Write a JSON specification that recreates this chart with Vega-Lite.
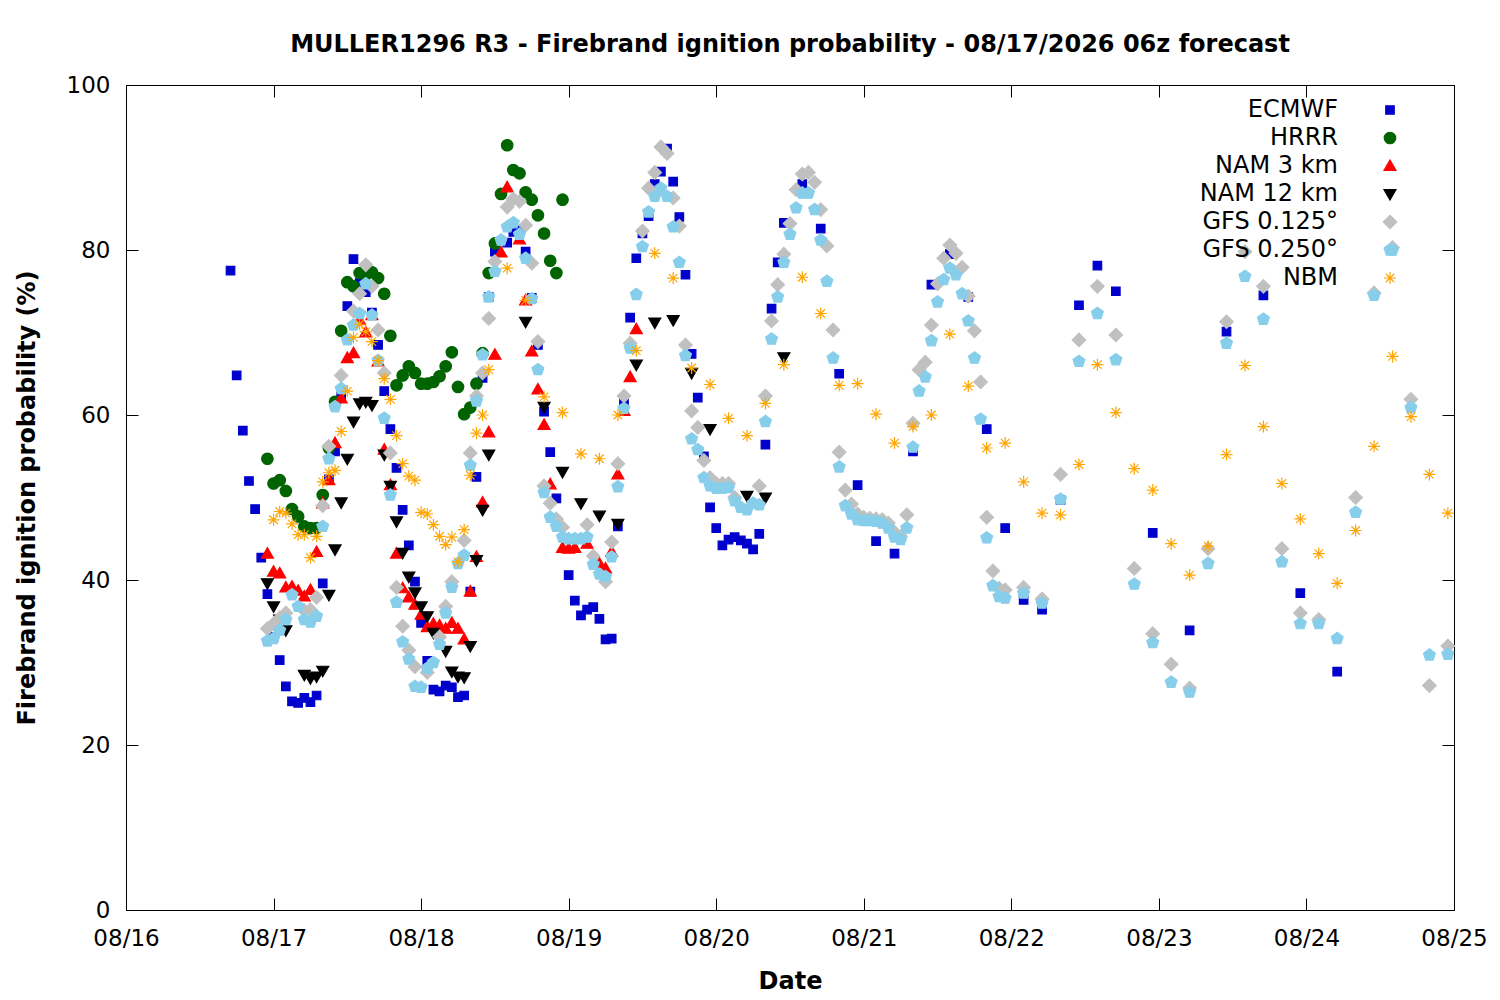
{
  "$schema": "https://vega.github.io/schema/vega-lite/v6.json",
  "width": 1328,
  "height": 825,
  "autosize": "none",
  "padding": {"left": 126, "top": 85, "right": 46, "bottom": 90},
  "background": "white",
  "title": {
    "text": "MULLER1296 R3 - Firebrand ignition probability - 08/17/2026 06z forecast",
    "font": "DejaVu Sans",
    "fontSize": 24,
    "fontWeight": "bold",
    "color": "black",
    "anchor": "middle",
    "frame": "group",
    "offset": 17
  },
  "config": {
    "font": "DejaVu Sans",
    "view": {"stroke": "black", "strokeWidth": 1},
    "axis": {
      "grid": false,
      "domain": false,
      "tickColor": "black",
      "tickSize": -12,
      "labelFont": "DejaVu Sans",
      "labelFontSize": 23,
      "labelColor": "black",
      "labelFlush": false,
      "labelOverlap": false,
      "titleFont": "DejaVu Sans",
      "titleFontSize": 24,
      "titleFontWeight": "bold",
      "titleColor": "black"
    }
  },
  "data": {
    "values": [
      {"model": "ECMWF", "hour": 17, "prob": 77.5}, {"model": "ECMWF", "hour": 18, "prob": 64.8}, {"model": "ECMWF", "hour": 19, "prob": 58.1}, {"model": "ECMWF", "hour": 20, "prob": 52.0}, {"model": "ECMWF", "hour": 21, "prob": 48.6}, {"model": "ECMWF", "hour": 22, "prob": 42.7}, {"model": "ECMWF", "hour": 23, "prob": 38.3}, {"model": "ECMWF", "hour": 24, "prob": 33.1}, {"model": "ECMWF", "hour": 25, "prob": 30.3}, {"model": "ECMWF", "hour": 26, "prob": 27.1}, {"model": "ECMWF", "hour": 27, "prob": 25.3}, {"model": "ECMWF", "hour": 28, "prob": 25.1}, {"model": "ECMWF", "hour": 29, "prob": 25.7}, {"model": "ECMWF", "hour": 30, "prob": 25.2}, {"model": "ECMWF", "hour": 31, "prob": 26.0}, {"model": "ECMWF", "hour": 32, "prob": 39.6}, {"model": "ECMWF", "hour": 33, "prob": 52.2}, {"model": "ECMWF", "hour": 34, "prob": 55.6}, {"model": "ECMWF", "hour": 35, "prob": 62.2}, {"model": "ECMWF", "hour": 36, "prob": 73.2}, {"model": "ECMWF", "hour": 37, "prob": 78.9}, {"model": "ECMWF", "hour": 38, "prob": 76.0}, {"model": "ECMWF", "hour": 39, "prob": 74.9}, {"model": "ECMWF", "hour": 40, "prob": 72.4}, {"model": "ECMWF", "hour": 41, "prob": 68.5}, {"model": "ECMWF", "hour": 42, "prob": 62.9}, {"model": "ECMWF", "hour": 43, "prob": 58.3}, {"model": "ECMWF", "hour": 44, "prob": 53.6}, {"model": "ECMWF", "hour": 45, "prob": 48.5}, {"model": "ECMWF", "hour": 46, "prob": 44.2}, {"model": "ECMWF", "hour": 47, "prob": 39.8}, {"model": "ECMWF", "hour": 48, "prob": 34.8}, {"model": "ECMWF", "hour": 49, "prob": 30.2}, {"model": "ECMWF", "hour": 50, "prob": 26.7}, {"model": "ECMWF", "hour": 51, "prob": 26.5}, {"model": "ECMWF", "hour": 52, "prob": 27.2}, {"model": "ECMWF", "hour": 53, "prob": 27.0}, {"model": "ECMWF", "hour": 54, "prob": 25.8}, {"model": "ECMWF", "hour": 55, "prob": 26.0}, {"model": "ECMWF", "hour": 56, "prob": 38.6}, {"model": "ECMWF", "hour": 57, "prob": 52.5}, {"model": "ECMWF", "hour": 58, "prob": 64.5}, {"model": "ECMWF", "hour": 59, "prob": 74.3}, {"model": "ECMWF", "hour": 60, "prob": 79.8}, {"model": "ECMWF", "hour": 62, "prob": 80.9}, {"model": "ECMWF", "hour": 63, "prob": 82.2}, {"model": "ECMWF", "hour": 64, "prob": 82.4}, {"model": "ECMWF", "hour": 65, "prob": 79.8}, {"model": "ECMWF", "hour": 66, "prob": 74.2}, {"model": "ECMWF", "hour": 67, "prob": 68.5}, {"model": "ECMWF", "hour": 68, "prob": 60.4}, {"model": "ECMWF", "hour": 69, "prob": 55.5}, {"model": "ECMWF", "hour": 70, "prob": 49.9}, {"model": "ECMWF", "hour": 72, "prob": 40.6}, {"model": "ECMWF", "hour": 73, "prob": 37.5}, {"model": "ECMWF", "hour": 74, "prob": 35.7}, {"model": "ECMWF", "hour": 75, "prob": 36.4}, {"model": "ECMWF", "hour": 76, "prob": 36.7}, {"model": "ECMWF", "hour": 77, "prob": 35.3}, {"model": "ECMWF", "hour": 78, "prob": 32.8}, {"model": "ECMWF", "hour": 79, "prob": 32.9}, {"model": "ECMWF", "hour": 80, "prob": 46.5}, {"model": "ECMWF", "hour": 81, "prob": 61.6}, {"model": "ECMWF", "hour": 82, "prob": 71.8}, {"model": "ECMWF", "hour": 83, "prob": 79.0}, {"model": "ECMWF", "hour": 84, "prob": 82.0}, {"model": "ECMWF", "hour": 85, "prob": 84.1}, {"model": "ECMWF", "hour": 86, "prob": 88.0}, {"model": "ECMWF", "hour": 87, "prob": 89.5}, {"model": "ECMWF", "hour": 88, "prob": 92.3}, {"model": "ECMWF", "hour": 89, "prob": 88.3}, {"model": "ECMWF", "hour": 90, "prob": 84.0}, {"model": "ECMWF", "hour": 91, "prob": 77.0}, {"model": "ECMWF", "hour": 92, "prob": 67.4}, {"model": "ECMWF", "hour": 93, "prob": 62.1}, {"model": "ECMWF", "hour": 94, "prob": 55.0}, {"model": "ECMWF", "hour": 95, "prob": 48.8}, {"model": "ECMWF", "hour": 96, "prob": 46.3}, {"model": "ECMWF", "hour": 97, "prob": 44.2}, {"model": "ECMWF", "hour": 98, "prob": 44.9}, {"model": "ECMWF", "hour": 99, "prob": 45.2}, {"model": "ECMWF", "hour": 100, "prob": 44.8}, {"model": "ECMWF", "hour": 101, "prob": 44.4}, {"model": "ECMWF", "hour": 102, "prob": 43.7}, {"model": "ECMWF", "hour": 103, "prob": 45.6}, {"model": "ECMWF", "hour": 104, "prob": 56.4}, {"model": "ECMWF", "hour": 105, "prob": 72.9}, {"model": "ECMWF", "hour": 106, "prob": 78.5}, {"model": "ECMWF", "hour": 107, "prob": 83.3}, {"model": "ECMWF", "hour": 110, "prob": 88.0}, {"model": "ECMWF", "hour": 113, "prob": 82.6}, {"model": "ECMWF", "hour": 116, "prob": 65.0}, {"model": "ECMWF", "hour": 119, "prob": 51.5}, {"model": "ECMWF", "hour": 122, "prob": 44.7}, {"model": "ECMWF", "hour": 125, "prob": 43.2}, {"model": "ECMWF", "hour": 128, "prob": 55.6}, {"model": "ECMWF", "hour": 131, "prob": 75.8}, {"model": "ECMWF", "hour": 134, "prob": 79.5}, {"model": "ECMWF", "hour": 137, "prob": 74.3}, {"model": "ECMWF", "hour": 140, "prob": 58.3}, {"model": "ECMWF", "hour": 143, "prob": 46.3}, {"model": "ECMWF", "hour": 146, "prob": 37.6}, {"model": "ECMWF", "hour": 149, "prob": 36.4}, {"model": "ECMWF", "hour": 152, "prob": 49.7}, {"model": "ECMWF", "hour": 155, "prob": 73.3}, {"model": "ECMWF", "hour": 158, "prob": 78.1}, {"model": "ECMWF", "hour": 161, "prob": 75.0}, {"model": "ECMWF", "hour": 167, "prob": 45.7}, {"model": "ECMWF", "hour": 173, "prob": 33.9}, {"model": "ECMWF", "hour": 179, "prob": 70.1}, {"model": "ECMWF", "hour": 185, "prob": 74.5}, {"model": "ECMWF", "hour": 191, "prob": 38.4}, {"model": "ECMWF", "hour": 197, "prob": 28.9},

      {"model": "HRRR", "hour": 23, "prob": 54.7}, {"model": "HRRR", "hour": 24, "prob": 51.7}, {"model": "HRRR", "hour": 25, "prob": 52.1}, {"model": "HRRR", "hour": 26, "prob": 50.8}, {"model": "HRRR", "hour": 27, "prob": 48.6}, {"model": "HRRR", "hour": 28, "prob": 47.7}, {"model": "HRRR", "hour": 29, "prob": 46.5}, {"model": "HRRR", "hour": 30, "prob": 46.3}, {"model": "HRRR", "hour": 31, "prob": 46.3}, {"model": "HRRR", "hour": 32, "prob": 50.3}, {"model": "HRRR", "hour": 33, "prob": 56.0}, {"model": "HRRR", "hour": 34, "prob": 61.6}, {"model": "HRRR", "hour": 35, "prob": 70.2}, {"model": "HRRR", "hour": 36, "prob": 76.1}, {"model": "HRRR", "hour": 37, "prob": 75.6}, {"model": "HRRR", "hour": 38, "prob": 77.2}, {"model": "HRRR", "hour": 39, "prob": 77.0}, {"model": "HRRR", "hour": 40, "prob": 77.3}, {"model": "HRRR", "hour": 41, "prob": 76.6}, {"model": "HRRR", "hour": 42, "prob": 74.7}, {"model": "HRRR", "hour": 43, "prob": 69.6}, {"model": "HRRR", "hour": 44, "prob": 63.6}, {"model": "HRRR", "hour": 45, "prob": 64.8}, {"model": "HRRR", "hour": 46, "prob": 65.9}, {"model": "HRRR", "hour": 47, "prob": 65.1}, {"model": "HRRR", "hour": 48, "prob": 63.8}, {"model": "HRRR", "hour": 49, "prob": 63.8}, {"model": "HRRR", "hour": 50, "prob": 64.0}, {"model": "HRRR", "hour": 51, "prob": 64.7}, {"model": "HRRR", "hour": 52, "prob": 65.9}, {"model": "HRRR", "hour": 53, "prob": 67.6}, {"model": "HRRR", "hour": 54, "prob": 63.4}, {"model": "HRRR", "hour": 55, "prob": 60.1}, {"model": "HRRR", "hour": 56, "prob": 60.9}, {"model": "HRRR", "hour": 57, "prob": 63.8}, {"model": "HRRR", "hour": 58, "prob": 67.5}, {"model": "HRRR", "hour": 59, "prob": 77.2}, {"model": "HRRR", "hour": 60, "prob": 80.8}, {"model": "HRRR", "hour": 61, "prob": 86.8}, {"model": "HRRR", "hour": 62, "prob": 92.7}, {"model": "HRRR", "hour": 63, "prob": 89.7}, {"model": "HRRR", "hour": 64, "prob": 89.3}, {"model": "HRRR", "hour": 65, "prob": 87.0}, {"model": "HRRR", "hour": 66, "prob": 86.1}, {"model": "HRRR", "hour": 67, "prob": 84.2}, {"model": "HRRR", "hour": 68, "prob": 82.0}, {"model": "HRRR", "hour": 69, "prob": 78.7}, {"model": "HRRR", "hour": 70, "prob": 77.2}, {"model": "HRRR", "hour": 71, "prob": 86.1},

      {"model": "NAM 3 km", "hour": 23, "prob": 43.2}, {"model": "NAM 3 km", "hour": 24, "prob": 41.0}, {"model": "NAM 3 km", "hour": 25, "prob": 40.8}, {"model": "NAM 3 km", "hour": 26, "prob": 39.1}, {"model": "NAM 3 km", "hour": 27, "prob": 39.2}, {"model": "NAM 3 km", "hour": 28, "prob": 38.7}, {"model": "NAM 3 km", "hour": 29, "prob": 38.0}, {"model": "NAM 3 km", "hour": 30, "prob": 38.8}, {"model": "NAM 3 km", "hour": 31, "prob": 43.4}, {"model": "NAM 3 km", "hour": 32, "prob": 49.3}, {"model": "NAM 3 km", "hour": 33, "prob": 52.1}, {"model": "NAM 3 km", "hour": 34, "prob": 56.6}, {"model": "NAM 3 km", "hour": 35, "prob": 62.0}, {"model": "NAM 3 km", "hour": 36, "prob": 66.9}, {"model": "NAM 3 km", "hour": 37, "prob": 67.5}, {"model": "NAM 3 km", "hour": 38, "prob": 71.5}, {"model": "NAM 3 km", "hour": 39, "prob": 70.0}, {"model": "NAM 3 km", "hour": 40, "prob": 72.1}, {"model": "NAM 3 km", "hour": 41, "prob": 66.5}, {"model": "NAM 3 km", "hour": 42, "prob": 55.8}, {"model": "NAM 3 km", "hour": 43, "prob": 51.5}, {"model": "NAM 3 km", "hour": 44, "prob": 43.2}, {"model": "NAM 3 km", "hour": 45, "prob": 39.0}, {"model": "NAM 3 km", "hour": 46, "prob": 37.9}, {"model": "NAM 3 km", "hour": 47, "prob": 37.0}, {"model": "NAM 3 km", "hour": 48, "prob": 35.8}, {"model": "NAM 3 km", "hour": 49, "prob": 34.3}, {"model": "NAM 3 km", "hour": 50, "prob": 34.7}, {"model": "NAM 3 km", "hour": 51, "prob": 34.5}, {"model": "NAM 3 km", "hour": 52, "prob": 34.1}, {"model": "NAM 3 km", "hour": 53, "prob": 34.8}, {"model": "NAM 3 km", "hour": 54, "prob": 34.1}, {"model": "NAM 3 km", "hour": 55, "prob": 32.8}, {"model": "NAM 3 km", "hour": 56, "prob": 38.6}, {"model": "NAM 3 km", "hour": 57, "prob": 42.8}, {"model": "NAM 3 km", "hour": 58, "prob": 49.4}, {"model": "NAM 3 km", "hour": 59, "prob": 57.9}, {"model": "NAM 3 km", "hour": 60, "prob": 67.3}, {"model": "NAM 3 km", "hour": 61, "prob": 79.7}, {"model": "NAM 3 km", "hour": 62, "prob": 87.6}, {"model": "NAM 3 km", "hour": 64, "prob": 81.3}, {"model": "NAM 3 km", "hour": 65, "prob": 73.9}, {"model": "NAM 3 km", "hour": 66, "prob": 67.7}, {"model": "NAM 3 km", "hour": 67, "prob": 63.1}, {"model": "NAM 3 km", "hour": 68, "prob": 58.8}, {"model": "NAM 3 km", "hour": 69, "prob": 51.6}, {"model": "NAM 3 km", "hour": 71, "prob": 43.9}, {"model": "NAM 3 km", "hour": 72, "prob": 43.8}, {"model": "NAM 3 km", "hour": 73, "prob": 43.9}, {"model": "NAM 3 km", "hour": 75, "prob": 44.4}, {"model": "NAM 3 km", "hour": 77, "prob": 42.0}, {"model": "NAM 3 km", "hour": 78, "prob": 41.4}, {"model": "NAM 3 km", "hour": 79, "prob": 43.4}, {"model": "NAM 3 km", "hour": 80, "prob": 52.8}, {"model": "NAM 3 km", "hour": 81, "prob": 60.5}, {"model": "NAM 3 km", "hour": 82, "prob": 64.6}, {"model": "NAM 3 km", "hour": 83, "prob": 70.4},

      {"model": "NAM 12 km", "hour": 23, "prob": 39.6}, {"model": "NAM 12 km", "hour": 24, "prob": 36.8}, {"model": "NAM 12 km", "hour": 25, "prob": 35.2}, {"model": "NAM 12 km", "hour": 26, "prob": 33.9}, {"model": "NAM 12 km", "hour": 29, "prob": 28.5}, {"model": "NAM 12 km", "hour": 30, "prob": 28.1}, {"model": "NAM 12 km", "hour": 31, "prob": 28.3}, {"model": "NAM 12 km", "hour": 32, "prob": 29.0}, {"model": "NAM 12 km", "hour": 33, "prob": 38.2}, {"model": "NAM 12 km", "hour": 34, "prob": 43.7}, {"model": "NAM 12 km", "hour": 35, "prob": 49.4}, {"model": "NAM 12 km", "hour": 36, "prob": 54.7}, {"model": "NAM 12 km", "hour": 37, "prob": 59.2}, {"model": "NAM 12 km", "hour": 38, "prob": 61.4}, {"model": "NAM 12 km", "hour": 39, "prob": 61.6}, {"model": "NAM 12 km", "hour": 40, "prob": 61.2}, {"model": "NAM 12 km", "hour": 42, "prob": 55.2}, {"model": "NAM 12 km", "hour": 43, "prob": 51.4}, {"model": "NAM 12 km", "hour": 44, "prob": 47.1}, {"model": "NAM 12 km", "hour": 45, "prob": 43.3}, {"model": "NAM 12 km", "hour": 46, "prob": 40.4}, {"model": "NAM 12 km", "hour": 47, "prob": 38.5}, {"model": "NAM 12 km", "hour": 48, "prob": 36.8}, {"model": "NAM 12 km", "hour": 49, "prob": 35.6}, {"model": "NAM 12 km", "hour": 50, "prob": 33.6}, {"model": "NAM 12 km", "hour": 52, "prob": 31.4}, {"model": "NAM 12 km", "hour": 53, "prob": 28.9}, {"model": "NAM 12 km", "hour": 54, "prob": 28.3}, {"model": "NAM 12 km", "hour": 55, "prob": 28.2}, {"model": "NAM 12 km", "hour": 56, "prob": 32.0}, {"model": "NAM 12 km", "hour": 57, "prob": 42.4}, {"model": "NAM 12 km", "hour": 58, "prob": 48.5}, {"model": "NAM 12 km", "hour": 59, "prob": 55.2}, {"model": "NAM 12 km", "hour": 65, "prob": 71.3}, {"model": "NAM 12 km", "hour": 68, "prob": 61.0}, {"model": "NAM 12 km", "hour": 71, "prob": 53.1}, {"model": "NAM 12 km", "hour": 74, "prob": 49.3}, {"model": "NAM 12 km", "hour": 77, "prob": 47.8}, {"model": "NAM 12 km", "hour": 80, "prob": 46.8}, {"model": "NAM 12 km", "hour": 83, "prob": 66.1}, {"model": "NAM 12 km", "hour": 86, "prob": 71.2}, {"model": "NAM 12 km", "hour": 89, "prob": 71.5}, {"model": "NAM 12 km", "hour": 92, "prob": 65.1}, {"model": "NAM 12 km", "hour": 95, "prob": 58.3}, {"model": "NAM 12 km", "hour": 101, "prob": 50.2}, {"model": "NAM 12 km", "hour": 104, "prob": 50.0}, {"model": "NAM 12 km", "hour": 107, "prob": 67.0},

      {"model": "GFS 0.125°", "hour": 23, "prob": 34.1}, {"model": "GFS 0.125°", "hour": 24, "prob": 34.7}, {"model": "GFS 0.125°", "hour": 25, "prob": 35.4}, {"model": "GFS 0.125°", "hour": 26, "prob": 36.0}, {"model": "GFS 0.125°", "hour": 29, "prob": 36.3}, {"model": "GFS 0.125°", "hour": 30, "prob": 36.4}, {"model": "GFS 0.125°", "hour": 31, "prob": 37.9}, {"model": "GFS 0.125°", "hour": 32, "prob": 49.0}, {"model": "GFS 0.125°", "hour": 33, "prob": 56.2}, {"model": "GFS 0.125°", "hour": 35, "prob": 64.8}, {"model": "GFS 0.125°", "hour": 37, "prob": 72.6}, {"model": "GFS 0.125°", "hour": 38, "prob": 74.7}, {"model": "GFS 0.125°", "hour": 39, "prob": 78.2}, {"model": "GFS 0.125°", "hour": 40, "prob": 75.6}, {"model": "GFS 0.125°", "hour": 41, "prob": 70.3}, {"model": "GFS 0.125°", "hour": 42, "prob": 65.1}, {"model": "GFS 0.125°", "hour": 43, "prob": 55.4}, {"model": "GFS 0.125°", "hour": 44, "prob": 39.1}, {"model": "GFS 0.125°", "hour": 45, "prob": 34.4}, {"model": "GFS 0.125°", "hour": 46, "prob": 31.5}, {"model": "GFS 0.125°", "hour": 47, "prob": 29.5}, {"model": "GFS 0.125°", "hour": 49, "prob": 28.8}, {"model": "GFS 0.125°", "hour": 51, "prob": 33.1}, {"model": "GFS 0.125°", "hour": 52, "prob": 36.8}, {"model": "GFS 0.125°", "hour": 53, "prob": 39.8}, {"model": "GFS 0.125°", "hour": 55, "prob": 44.8}, {"model": "GFS 0.125°", "hour": 56, "prob": 55.4}, {"model": "GFS 0.125°", "hour": 57, "prob": 62.3}, {"model": "GFS 0.125°", "hour": 58, "prob": 65.1}, {"model": "GFS 0.125°", "hour": 59, "prob": 71.7}, {"model": "GFS 0.125°", "hour": 60, "prob": 78.6}, {"model": "GFS 0.125°", "hour": 62, "prob": 85.2}, {"model": "GFS 0.125°", "hour": 63, "prob": 86.2}, {"model": "GFS 0.125°", "hour": 64, "prob": 85.9}, {"model": "GFS 0.125°", "hour": 65, "prob": 83.0}, {"model": "GFS 0.125°", "hour": 66, "prob": 78.4}, {"model": "GFS 0.125°", "hour": 67, "prob": 68.9}, {"model": "GFS 0.125°", "hour": 68, "prob": 51.4}, {"model": "GFS 0.125°", "hour": 69, "prob": 49.3}, {"model": "GFS 0.125°", "hour": 70, "prob": 47.4}, {"model": "GFS 0.125°", "hour": 71, "prob": 46.4}, {"model": "GFS 0.125°", "hour": 75, "prob": 46.7}, {"model": "GFS 0.125°", "hour": 76, "prob": 42.9}, {"model": "GFS 0.125°", "hour": 78, "prob": 39.8}, {"model": "GFS 0.125°", "hour": 79, "prob": 44.6}, {"model": "GFS 0.125°", "hour": 80, "prob": 54.1}, {"model": "GFS 0.125°", "hour": 81, "prob": 62.3}, {"model": "GFS 0.125°", "hour": 82, "prob": 68.7}, {"model": "GFS 0.125°", "hour": 84, "prob": 82.3}, {"model": "GFS 0.125°", "hour": 85, "prob": 87.5}, {"model": "GFS 0.125°", "hour": 86, "prob": 89.4}, {"model": "GFS 0.125°", "hour": 87, "prob": 92.5}, {"model": "GFS 0.125°", "hour": 88, "prob": 91.7}, {"model": "GFS 0.125°", "hour": 89, "prob": 86.3}, {"model": "GFS 0.125°", "hour": 90, "prob": 82.9}, {"model": "GFS 0.125°", "hour": 91, "prob": 68.5}, {"model": "GFS 0.125°", "hour": 92, "prob": 60.5}, {"model": "GFS 0.125°", "hour": 93, "prob": 58.5}, {"model": "GFS 0.125°", "hour": 94, "prob": 54.5}, {"model": "GFS 0.125°", "hour": 95, "prob": 52.4}, {"model": "GFS 0.125°", "hour": 96, "prob": 51.7}, {"model": "GFS 0.125°", "hour": 97, "prob": 51.7}, {"model": "GFS 0.125°", "hour": 98, "prob": 51.7}, {"model": "GFS 0.125°", "hour": 99, "prob": 50.0}, {"model": "GFS 0.125°", "hour": 103, "prob": 51.4}, {"model": "GFS 0.125°", "hour": 104, "prob": 62.3}, {"model": "GFS 0.125°", "hour": 105, "prob": 71.4}, {"model": "GFS 0.125°", "hour": 106, "prob": 75.8}, {"model": "GFS 0.125°", "hour": 107, "prob": 79.5}, {"model": "GFS 0.125°", "hour": 108, "prob": 83.2}, {"model": "GFS 0.125°", "hour": 109, "prob": 87.3}, {"model": "GFS 0.125°", "hour": 110, "prob": 89.2}, {"model": "GFS 0.125°", "hour": 111, "prob": 89.4}, {"model": "GFS 0.125°", "hour": 112, "prob": 88.2}, {"model": "GFS 0.125°", "hour": 113, "prob": 84.9}, {"model": "GFS 0.125°", "hour": 114, "prob": 80.5}, {"model": "GFS 0.125°", "hour": 115, "prob": 70.3}, {"model": "GFS 0.125°", "hour": 116, "prob": 55.5}, {"model": "GFS 0.125°", "hour": 117, "prob": 50.9}, {"model": "GFS 0.125°", "hour": 118, "prob": 49.2}, {"model": "GFS 0.125°", "hour": 119, "prob": 48.0}, {"model": "GFS 0.125°", "hour": 120, "prob": 47.6}, {"model": "GFS 0.125°", "hour": 121, "prob": 47.5}, {"model": "GFS 0.125°", "hour": 122, "prob": 47.4}, {"model": "GFS 0.125°", "hour": 123, "prob": 47.3}, {"model": "GFS 0.125°", "hour": 124, "prob": 46.9}, {"model": "GFS 0.125°", "hour": 125, "prob": 45.8}, {"model": "GFS 0.125°", "hour": 126, "prob": 45.3}, {"model": "GFS 0.125°", "hour": 127, "prob": 47.9}, {"model": "GFS 0.125°", "hour": 128, "prob": 59.0}, {"model": "GFS 0.125°", "hour": 129, "prob": 65.5}, {"model": "GFS 0.125°", "hour": 130, "prob": 66.4}, {"model": "GFS 0.125°", "hour": 131, "prob": 70.9}, {"model": "GFS 0.125°", "hour": 132, "prob": 75.9}, {"model": "GFS 0.125°", "hour": 133, "prob": 79.0}, {"model": "GFS 0.125°", "hour": 134, "prob": 80.6}, {"model": "GFS 0.125°", "hour": 135, "prob": 79.6}, {"model": "GFS 0.125°", "hour": 136, "prob": 77.9}, {"model": "GFS 0.125°", "hour": 137, "prob": 74.4}, {"model": "GFS 0.125°", "hour": 138, "prob": 70.2}, {"model": "GFS 0.125°", "hour": 139, "prob": 64.0}, {"model": "GFS 0.125°", "hour": 140, "prob": 47.6}, {"model": "GFS 0.125°", "hour": 141, "prob": 41.1}, {"model": "GFS 0.125°", "hour": 142, "prob": 39.0}, {"model": "GFS 0.125°", "hour": 143, "prob": 38.8}, {"model": "GFS 0.125°", "hour": 146, "prob": 39.1}, {"model": "GFS 0.125°", "hour": 149, "prob": 37.7}, {"model": "GFS 0.125°", "hour": 152, "prob": 52.8}, {"model": "GFS 0.125°", "hour": 155, "prob": 69.1}, {"model": "GFS 0.125°", "hour": 158, "prob": 75.6}, {"model": "GFS 0.125°", "hour": 161, "prob": 69.7}, {"model": "GFS 0.125°", "hour": 164, "prob": 41.4}, {"model": "GFS 0.125°", "hour": 167, "prob": 33.5}, {"model": "GFS 0.125°", "hour": 170, "prob": 29.8}, {"model": "GFS 0.125°", "hour": 173, "prob": 26.9}, {"model": "GFS 0.125°", "hour": 176, "prob": 43.8}, {"model": "GFS 0.125°", "hour": 179, "prob": 71.3}, {"model": "GFS 0.125°", "hour": 182, "prob": 79.8}, {"model": "GFS 0.125°", "hour": 185, "prob": 75.6}, {"model": "GFS 0.125°", "hour": 188, "prob": 43.8}, {"model": "GFS 0.125°", "hour": 191, "prob": 36.0}, {"model": "GFS 0.125°", "hour": 194, "prob": 35.2}, {"model": "GFS 0.125°", "hour": 200, "prob": 50.0}, {"model": "GFS 0.125°", "hour": 203, "prob": 74.8}, {"model": "GFS 0.125°", "hour": 206, "prob": 80.3}, {"model": "GFS 0.125°", "hour": 209, "prob": 61.9}, {"model": "GFS 0.125°", "hour": 212, "prob": 27.2}, {"model": "GFS 0.125°", "hour": 215, "prob": 32.0},

      {"model": "GFS 0.250°", "hour": 23, "prob": 32.6}, {"model": "GFS 0.250°", "hour": 24, "prob": 32.9}, {"model": "GFS 0.250°", "hour": 25, "prob": 33.9}, {"model": "GFS 0.250°", "hour": 26, "prob": 35.2}, {"model": "GFS 0.250°", "hour": 27, "prob": 38.2}, {"model": "GFS 0.250°", "hour": 28, "prob": 36.8}, {"model": "GFS 0.250°", "hour": 29, "prob": 35.2}, {"model": "GFS 0.250°", "hour": 30, "prob": 34.9}, {"model": "GFS 0.250°", "hour": 31, "prob": 35.6}, {"model": "GFS 0.250°", "hour": 32, "prob": 46.5}, {"model": "GFS 0.250°", "hour": 33, "prob": 54.7}, {"model": "GFS 0.250°", "hour": 34, "prob": 61.0}, {"model": "GFS 0.250°", "hour": 35, "prob": 63.2}, {"model": "GFS 0.250°", "hour": 36, "prob": 69.1}, {"model": "GFS 0.250°", "hour": 37, "prob": 70.9}, {"model": "GFS 0.250°", "hour": 38, "prob": 72.3}, {"model": "GFS 0.250°", "hour": 39, "prob": 75.9}, {"model": "GFS 0.250°", "hour": 40, "prob": 72.1}, {"model": "GFS 0.250°", "hour": 41, "prob": 66.6}, {"model": "GFS 0.250°", "hour": 42, "prob": 59.6}, {"model": "GFS 0.250°", "hour": 43, "prob": 50.3}, {"model": "GFS 0.250°", "hour": 44, "prob": 37.3}, {"model": "GFS 0.250°", "hour": 45, "prob": 32.5}, {"model": "GFS 0.250°", "hour": 46, "prob": 30.4}, {"model": "GFS 0.250°", "hour": 47, "prob": 27.1}, {"model": "GFS 0.250°", "hour": 48, "prob": 27.0}, {"model": "GFS 0.250°", "hour": 49, "prob": 29.3}, {"model": "GFS 0.250°", "hour": 50, "prob": 30.0}, {"model": "GFS 0.250°", "hour": 51, "prob": 32.2}, {"model": "GFS 0.250°", "hour": 52, "prob": 36.0}, {"model": "GFS 0.250°", "hour": 53, "prob": 39.1}, {"model": "GFS 0.250°", "hour": 54, "prob": 42.0}, {"model": "GFS 0.250°", "hour": 55, "prob": 43.0}, {"model": "GFS 0.250°", "hour": 56, "prob": 53.9}, {"model": "GFS 0.250°", "hour": 57, "prob": 61.7}, {"model": "GFS 0.250°", "hour": 58, "prob": 67.3}, {"model": "GFS 0.250°", "hour": 59, "prob": 74.3}, {"model": "GFS 0.250°", "hour": 60, "prob": 77.4}, {"model": "GFS 0.250°", "hour": 61, "prob": 81.2}, {"model": "GFS 0.250°", "hour": 62, "prob": 82.8}, {"model": "GFS 0.250°", "hour": 63, "prob": 83.3}, {"model": "GFS 0.250°", "hour": 64, "prob": 81.9}, {"model": "GFS 0.250°", "hour": 65, "prob": 79.0}, {"model": "GFS 0.250°", "hour": 66, "prob": 74.1}, {"model": "GFS 0.250°", "hour": 67, "prob": 65.5}, {"model": "GFS 0.250°", "hour": 68, "prob": 50.6}, {"model": "GFS 0.250°", "hour": 69, "prob": 47.6}, {"model": "GFS 0.250°", "hour": 70, "prob": 46.5}, {"model": "GFS 0.250°", "hour": 71, "prob": 45.2}, {"model": "GFS 0.250°", "hour": 72, "prob": 45.0}, {"model": "GFS 0.250°", "hour": 73, "prob": 45.0}, {"model": "GFS 0.250°", "hour": 74, "prob": 45.0}, {"model": "GFS 0.250°", "hour": 75, "prob": 45.2}, {"model": "GFS 0.250°", "hour": 76, "prob": 41.9}, {"model": "GFS 0.250°", "hour": 77, "prob": 40.7}, {"model": "GFS 0.250°", "hour": 78, "prob": 40.4}, {"model": "GFS 0.250°", "hour": 79, "prob": 42.8}, {"model": "GFS 0.250°", "hour": 80, "prob": 51.3}, {"model": "GFS 0.250°", "hour": 81, "prob": 60.8}, {"model": "GFS 0.250°", "hour": 82, "prob": 68.1}, {"model": "GFS 0.250°", "hour": 83, "prob": 74.6}, {"model": "GFS 0.250°", "hour": 84, "prob": 80.4}, {"model": "GFS 0.250°", "hour": 85, "prob": 84.6}, {"model": "GFS 0.250°", "hour": 86, "prob": 86.5}, {"model": "GFS 0.250°", "hour": 87, "prob": 87.5}, {"model": "GFS 0.250°", "hour": 88, "prob": 86.5}, {"model": "GFS 0.250°", "hour": 89, "prob": 82.8}, {"model": "GFS 0.250°", "hour": 90, "prob": 78.5}, {"model": "GFS 0.250°", "hour": 91, "prob": 67.2}, {"model": "GFS 0.250°", "hour": 92, "prob": 57.1}, {"model": "GFS 0.250°", "hour": 93, "prob": 55.8}, {"model": "GFS 0.250°", "hour": 94, "prob": 52.4}, {"model": "GFS 0.250°", "hour": 95, "prob": 51.4}, {"model": "GFS 0.250°", "hour": 96, "prob": 51.1}, {"model": "GFS 0.250°", "hour": 97, "prob": 51.1}, {"model": "GFS 0.250°", "hour": 98, "prob": 51.2}, {"model": "GFS 0.250°", "hour": 99, "prob": 49.6}, {"model": "GFS 0.250°", "hour": 100, "prob": 48.8}, {"model": "GFS 0.250°", "hour": 101, "prob": 48.5}, {"model": "GFS 0.250°", "hour": 102, "prob": 49.3}, {"model": "GFS 0.250°", "hour": 103, "prob": 49.1}, {"model": "GFS 0.250°", "hour": 104, "prob": 59.2}, {"model": "GFS 0.250°", "hour": 105, "prob": 69.2}, {"model": "GFS 0.250°", "hour": 106, "prob": 74.3}, {"model": "GFS 0.250°", "hour": 107, "prob": 78.5}, {"model": "GFS 0.250°", "hour": 108, "prob": 81.9}, {"model": "GFS 0.250°", "hour": 109, "prob": 85.1}, {"model": "GFS 0.250°", "hour": 110, "prob": 86.9}, {"model": "GFS 0.250°", "hour": 111, "prob": 86.9}, {"model": "GFS 0.250°", "hour": 112, "prob": 84.9}, {"model": "GFS 0.250°", "hour": 113, "prob": 81.2}, {"model": "GFS 0.250°", "hour": 114, "prob": 76.2}, {"model": "GFS 0.250°", "hour": 115, "prob": 66.9}, {"model": "GFS 0.250°", "hour": 116, "prob": 53.7}, {"model": "GFS 0.250°", "hour": 117, "prob": 49.0}, {"model": "GFS 0.250°", "hour": 118, "prob": 48.0}, {"model": "GFS 0.250°", "hour": 119, "prob": 47.3}, {"model": "GFS 0.250°", "hour": 120, "prob": 47.2}, {"model": "GFS 0.250°", "hour": 121, "prob": 47.2}, {"model": "GFS 0.250°", "hour": 122, "prob": 47.1}, {"model": "GFS 0.250°", "hour": 123, "prob": 46.9}, {"model": "GFS 0.250°", "hour": 124, "prob": 46.3}, {"model": "GFS 0.250°", "hour": 125, "prob": 45.2}, {"model": "GFS 0.250°", "hour": 126, "prob": 44.9}, {"model": "GFS 0.250°", "hour": 127, "prob": 46.3}, {"model": "GFS 0.250°", "hour": 128, "prob": 56.1}, {"model": "GFS 0.250°", "hour": 129, "prob": 62.9}, {"model": "GFS 0.250°", "hour": 130, "prob": 64.6}, {"model": "GFS 0.250°", "hour": 131, "prob": 69.0}, {"model": "GFS 0.250°", "hour": 132, "prob": 73.7}, {"model": "GFS 0.250°", "hour": 133, "prob": 76.4}, {"model": "GFS 0.250°", "hour": 134, "prob": 77.8}, {"model": "GFS 0.250°", "hour": 135, "prob": 77.0}, {"model": "GFS 0.250°", "hour": 136, "prob": 74.7}, {"model": "GFS 0.250°", "hour": 137, "prob": 71.4}, {"model": "GFS 0.250°", "hour": 138, "prob": 66.9}, {"model": "GFS 0.250°", "hour": 139, "prob": 59.5}, {"model": "GFS 0.250°", "hour": 140, "prob": 45.1}, {"model": "GFS 0.250°", "hour": 141, "prob": 39.3}, {"model": "GFS 0.250°", "hour": 142, "prob": 38.0}, {"model": "GFS 0.250°", "hour": 143, "prob": 37.8}, {"model": "GFS 0.250°", "hour": 146, "prob": 38.4}, {"model": "GFS 0.250°", "hour": 149, "prob": 37.2}, {"model": "GFS 0.250°", "hour": 152, "prob": 49.8}, {"model": "GFS 0.250°", "hour": 155, "prob": 66.5}, {"model": "GFS 0.250°", "hour": 158, "prob": 72.3}, {"model": "GFS 0.250°", "hour": 161, "prob": 66.7}, {"model": "GFS 0.250°", "hour": 164, "prob": 39.5}, {"model": "GFS 0.250°", "hour": 167, "prob": 32.4}, {"model": "GFS 0.250°", "hour": 170, "prob": 27.6}, {"model": "GFS 0.250°", "hour": 173, "prob": 26.4}, {"model": "GFS 0.250°", "hour": 176, "prob": 42.0}, {"model": "GFS 0.250°", "hour": 179, "prob": 68.7}, {"model": "GFS 0.250°", "hour": 182, "prob": 76.8}, {"model": "GFS 0.250°", "hour": 185, "prob": 71.6}, {"model": "GFS 0.250°", "hour": 188, "prob": 42.2}, {"model": "GFS 0.250°", "hour": 191, "prob": 34.7}, {"model": "GFS 0.250°", "hour": 194, "prob": 34.7}, {"model": "GFS 0.250°", "hour": 197, "prob": 32.9}, {"model": "GFS 0.250°", "hour": 200, "prob": 48.2}, {"model": "GFS 0.250°", "hour": 203, "prob": 74.5}, {"model": "GFS 0.250°", "hour": 206, "prob": 80.0}, {"model": "GFS 0.250°", "hour": 209, "prob": 60.9}, {"model": "GFS 0.250°", "hour": 212, "prob": 30.9}, {"model": "GFS 0.250°", "hour": 215, "prob": 31.0},

      {"model": "NBM", "hour": 24, "prob": 47.3}, {"model": "NBM", "hour": 25, "prob": 48.3}, {"model": "NBM", "hour": 26, "prob": 48.1}, {"model": "NBM", "hour": 27, "prob": 46.8}, {"model": "NBM", "hour": 28, "prob": 45.5}, {"model": "NBM", "hour": 29, "prob": 45.5}, {"model": "NBM", "hour": 30, "prob": 42.7}, {"model": "NBM", "hour": 31, "prob": 45.3}, {"model": "NBM", "hour": 32, "prob": 51.9}, {"model": "NBM", "hour": 33, "prob": 53.0}, {"model": "NBM", "hour": 34, "prob": 53.3}, {"model": "NBM", "hour": 35, "prob": 58.0}, {"model": "NBM", "hour": 36, "prob": 62.9}, {"model": "NBM", "hour": 37, "prob": 69.4}, {"model": "NBM", "hour": 38, "prob": 71.0}, {"model": "NBM", "hour": 39, "prob": 70.1}, {"model": "NBM", "hour": 40, "prob": 68.9}, {"model": "NBM", "hour": 41, "prob": 66.6}, {"model": "NBM", "hour": 42, "prob": 64.4}, {"model": "NBM", "hour": 43, "prob": 61.9}, {"model": "NBM", "hour": 44, "prob": 57.5}, {"model": "NBM", "hour": 45, "prob": 54.1}, {"model": "NBM", "hour": 46, "prob": 52.6}, {"model": "NBM", "hour": 47, "prob": 52.1}, {"model": "NBM", "hour": 48, "prob": 48.2}, {"model": "NBM", "hour": 49, "prob": 48.0}, {"model": "NBM", "hour": 50, "prob": 46.7}, {"model": "NBM", "hour": 51, "prob": 45.3}, {"model": "NBM", "hour": 52, "prob": 44.3}, {"model": "NBM", "hour": 53, "prob": 45.2}, {"model": "NBM", "hour": 54, "prob": 42.2}, {"model": "NBM", "hour": 55, "prob": 46.1}, {"model": "NBM", "hour": 56, "prob": 52.7}, {"model": "NBM", "hour": 57, "prob": 57.8}, {"model": "NBM", "hour": 58, "prob": 60.0}, {"model": "NBM", "hour": 59, "prob": 65.5}, {"model": "NBM", "hour": 62, "prob": 77.8}, {"model": "NBM", "hour": 65, "prob": 73.9}, {"model": "NBM", "hour": 68, "prob": 62.2}, {"model": "NBM", "hour": 71, "prob": 60.3}, {"model": "NBM", "hour": 74, "prob": 55.3}, {"model": "NBM", "hour": 77, "prob": 54.7}, {"model": "NBM", "hour": 80, "prob": 60.0}, {"model": "NBM", "hour": 83, "prob": 67.8}, {"model": "NBM", "hour": 86, "prob": 79.6}, {"model": "NBM", "hour": 89, "prob": 76.6}, {"model": "NBM", "hour": 92, "prob": 65.7}, {"model": "NBM", "hour": 95, "prob": 63.7}, {"model": "NBM", "hour": 98, "prob": 59.6}, {"model": "NBM", "hour": 101, "prob": 57.5}, {"model": "NBM", "hour": 104, "prob": 61.4}, {"model": "NBM", "hour": 107, "prob": 66.1}, {"model": "NBM", "hour": 110, "prob": 76.7}, {"model": "NBM", "hour": 113, "prob": 72.3}, {"model": "NBM", "hour": 116, "prob": 63.6}, {"model": "NBM", "hour": 119, "prob": 63.8}, {"model": "NBM", "hour": 122, "prob": 60.1}, {"model": "NBM", "hour": 125, "prob": 56.6}, {"model": "NBM", "hour": 128, "prob": 58.6}, {"model": "NBM", "hour": 131, "prob": 60.0}, {"model": "NBM", "hour": 134, "prob": 69.8}, {"model": "NBM", "hour": 137, "prob": 63.5}, {"model": "NBM", "hour": 140, "prob": 56.0}, {"model": "NBM", "hour": 143, "prob": 56.6}, {"model": "NBM", "hour": 146, "prob": 51.9}, {"model": "NBM", "hour": 149, "prob": 48.1}, {"model": "NBM", "hour": 152, "prob": 47.9}, {"model": "NBM", "hour": 155, "prob": 54.0}, {"model": "NBM", "hour": 158, "prob": 66.1}, {"model": "NBM", "hour": 161, "prob": 60.3}, {"model": "NBM", "hour": 164, "prob": 53.5}, {"model": "NBM", "hour": 167, "prob": 50.9}, {"model": "NBM", "hour": 170, "prob": 44.4}, {"model": "NBM", "hour": 173, "prob": 40.6}, {"model": "NBM", "hour": 176, "prob": 44.1}, {"model": "NBM", "hour": 179, "prob": 55.2}, {"model": "NBM", "hour": 182, "prob": 66.0}, {"model": "NBM", "hour": 185, "prob": 58.6}, {"model": "NBM", "hour": 188, "prob": 51.7}, {"model": "NBM", "hour": 191, "prob": 47.4}, {"model": "NBM", "hour": 194, "prob": 43.2}, {"model": "NBM", "hour": 197, "prob": 39.6}, {"model": "NBM", "hour": 200, "prob": 46.0}, {"model": "NBM", "hour": 203, "prob": 56.2}, {"model": "NBM", "hour": 206, "prob": 67.1}, {"model": "NBM", "hour": 209, "prob": 59.8}, {"model": "NBM", "hour": 212, "prob": 52.8}, {"model": "NBM", "hour": 215, "prob": 48.1}
    ]
  },
  "resolve": {"axis": {"x": "independent", "y": "independent"}},
  "layer": [
    {
      "mark": {"type": "point", "filled": true, "strokeWidth": 1.2, "opacity": 1, "size": 100},
      "encoding": {
        "x": {
          "field": "hour",
          "type": "quantitative",
          "scale": {"domain": [0, 216], "nice": false, "zero": false},
          "axis": {
            "orient": "bottom",
            "values": [0, 24, 48, 72, 96, 120, 144, 168, 192, 216],
            "labelExpr": "'08/' + (16 + datum.value / 24)",
            "labelPadding": 29,
            "title": "Date",
            "titlePadding": 19
          }
        },
        "y": {
          "field": "prob",
          "type": "quantitative",
          "scale": {"domain": [0, 100], "nice": false},
          "axis": {
            "orient": "left",
            "values": [0, 20, 40, 60, 80, 100],
            "labelPadding": 28,
            "title": "Firebrand ignition probability (%)",
            "titlePadding": 27
          }
        },
        "shape": {
          "field": "model",
          "type": "nominal",
          "scale": {
            "domain": ["ECMWF", "HRRR", "NAM 3 km", "NAM 12 km", "GFS 0.125°", "GFS 0.250°", "NBM"],
            "range": [
              "M-0.85,-0.85H0.85V0.85H-0.85Z",
              "M1.15,0A1.15,1.15,0,1,1,-1.15,0A1.15,1.15,0,1,1,1.15,0Z",
              "M0,-1.2L1.2,0.9L-1.2,0.9Z",
              "M0,1.2L1.2,-0.9L-1.2,-0.9Z",
              "M0,-1.35L1.35,0L0,1.35L-1.35,0Z",
              "M0,-1.25L1.19,-0.39L0.73,1.01L-0.73,1.01L-1.19,-0.39Z",
              "M-1.2,0H1.2M0,-1.2V1.2M-0.85,-0.85L0.85,0.85M-0.85,0.85L0.85,-0.85"
            ]
          },
          "legend": {
            "title": null,
            "orient": "none",
            "legendX": 1252,
            "legendY": 13,
            "padding": 0,
            "labelAlign": "right",
            "labelOffset": -64,
            "labelFont": "DejaVu Sans",
            "labelFontSize": 24,
            "labelColor": "black",
            "labelLimit": 0,
            "rowPadding": 4,
            "symbolSize": 100,
            "symbolStrokeWidth": 1.2
          }
        },
        "fill": {
          "field": "model",
          "type": "nominal",
          "scale": {
            "domain": ["ECMWF", "HRRR", "NAM 3 km", "NAM 12 km", "GFS 0.125°", "GFS 0.250°", "NBM"],
            "range": ["#0000cd", "#006400", "#ff0000", "#000000", "#c0c0c0", "#87ceeb", "#ffa500"]
          },
          "legend": {
            "title": null,
            "orient": "none",
            "legendX": 1252,
            "legendY": 13,
            "padding": 0,
            "labelAlign": "right",
            "labelOffset": -64,
            "labelFont": "DejaVu Sans",
            "labelFontSize": 24,
            "labelColor": "black",
            "labelLimit": 0,
            "rowPadding": 4,
            "symbolSize": 100,
            "symbolStrokeWidth": 1.2
          }
        },
        "stroke": {
          "field": "model",
          "type": "nominal",
          "scale": {
            "domain": ["ECMWF", "HRRR", "NAM 3 km", "NAM 12 km", "GFS 0.125°", "GFS 0.250°", "NBM"],
            "range": ["#0000cd", "#006400", "#ff0000", "#000000", "#c0c0c0", "#87ceeb", "#ffa500"]
          },
          "legend": {
            "title": null,
            "orient": "none",
            "legendX": 1252,
            "legendY": 13,
            "padding": 0,
            "labelAlign": "right",
            "labelOffset": -64,
            "labelFont": "DejaVu Sans",
            "labelFontSize": 24,
            "labelColor": "black",
            "labelLimit": 0,
            "rowPadding": 4,
            "symbolSize": 100,
            "symbolStrokeWidth": 1.2
          }
        }
      }
    },
    {
      "mark": {"type": "point", "opacity": 0},
      "encoding": {
        "x": {
          "field": "hour",
          "type": "quantitative",
          "axis": {
            "orient": "top",
            "values": [0, 24, 48, 72, 96, 120, 144, 168, 192, 216],
            "labels": false,
            "title": null
          }
        },
        "y": {
          "field": "prob",
          "type": "quantitative",
          "axis": {
            "orient": "right",
            "values": [0, 20, 40, 60, 80, 100],
            "labels": false,
            "title": null
          }
        }
      }
    }
  ]
}
